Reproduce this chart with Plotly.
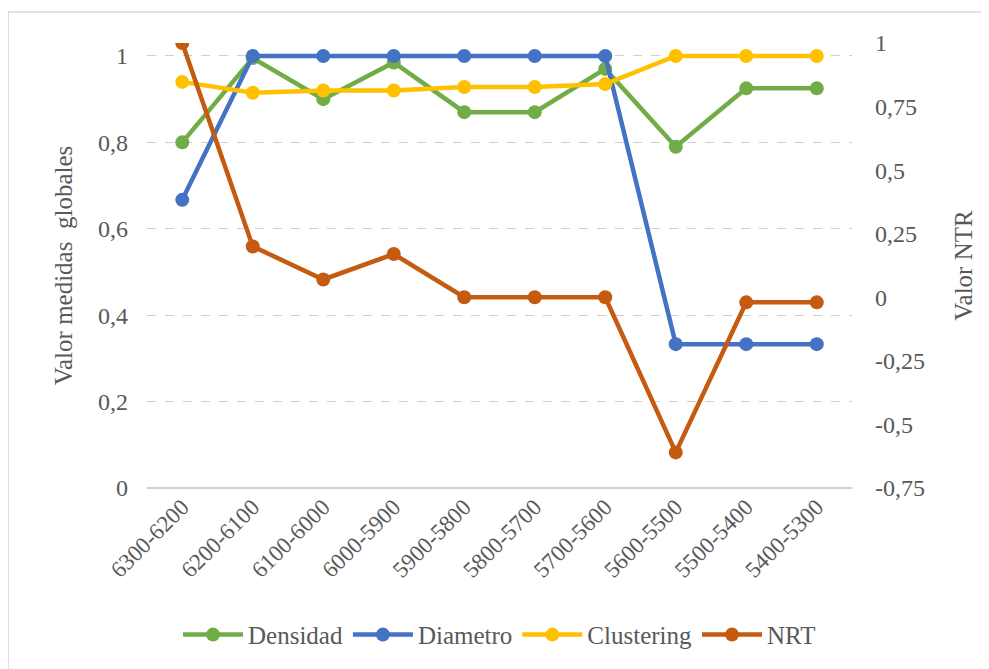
import plotly.graph_objects as go

categories = ["6300-6200", "6200-6100", "6100-6000", "6000-5900", "5900-5800",
              "5800-5700", "5700-5600", "5600-5500", "5500-5400", "5400-5300"]
densidad = [0.80, 0.995, 0.90, 0.985, 0.87, 0.87, 0.97, 0.79, 0.925, 0.925]
diametro = [0.667, 1.0, 1.0, 1.0, 1.0, 1.0, 1.0, 0.333, 0.333, 0.333]
clustering = [0.94, 0.915, 0.92, 0.92, 0.928, 0.928, 0.935, 1.0, 1.0, 1.0]
nrt = [1.0, 0.20, 0.07, 0.17, 0.0, 0.0, 0.0, -0.61, -0.02, -0.02]

left_ticks = [0, 0.2, 0.4, 0.6, 0.8, 1]
left_labels = ["0", "0,2", "0,4", "0,6", "0,8", "1"]
right_ticks = [-0.75, -0.5, -0.25, 0, 0.25, 0.5, 0.75, 1]
right_labels = ["-0,75", "-0,5", "-0,25", "0", "0,25", "0,5", "0,75", "1"]

FONT = "Liberation Serif, Times New Roman, serif"
TXT = "#595959"

fig = go.Figure()
series = [("Densidad", densidad, "#70AD47", "y"),
          ("Diametro", diametro, "#4472C4", "y"),
          ("Clustering", clustering, "#FFC000", "y"),
          ("NRT", nrt, "#C55A11", "y2")]
for name, vals, col, ax in series:
    fig.add_trace(go.Scatter(x=categories, y=vals, name=name, mode="lines+markers",
                             line=dict(color=col, width=4.5),
                             marker=dict(color=col, size=14), yaxis=ax))

fig.update_layout(
    width=989, height=669,
    margin=dict(l=139, r=145, t=35, b=189),
    paper_bgcolor="white", plot_bgcolor="white",
    font=dict(family=FONT, size=24, color=TXT),
    separators=",.",
    showlegend=True,
    legend=dict(orientation="h", x=0.5, xanchor="center", y=-0.33, yanchor="middle",
                font=dict(size=25, color=TXT), itemwidth=60, traceorder="normal"),
    xaxis=dict(range=[-0.5, 9.5], tickangle=-45, showgrid=False, showline=False,
               ticks="", tickfont=dict(size=23, color=TXT)),
    yaxis=dict(range=[0, 1.03], tickvals=left_ticks, ticktext=left_labels,
               showgrid=True, gridcolor="#d0d0d0", griddash="dash", gridwidth=1,
               zeroline=True, zerolinecolor="#d0d0d0", zerolinewidth=1.5,
               ticks="", ticklabelstandoff=18,
               title=dict(text="Valor medidas  globales", standoff=18, font=dict(size=25, color=TXT))),
    yaxis2=dict(range=[-0.75, 1.0], tickvals=right_ticks, ticktext=right_labels,
                overlaying="y", side="right", showgrid=False, zeroline=False,
                ticks="", ticklabelstandoff=22,
                title=dict(text="Valor NTR", standoff=30, font=dict(size=25, color=TXT))),
    shapes=[dict(type="rect", xref="paper", yref="paper", x0=-0.197, x1=1.3,
                 y0=-0.6, y1=1.0697, line=dict(color="#d9d9d9", width=1.5), layer="below")],
)

fig.write_html("out.html")
